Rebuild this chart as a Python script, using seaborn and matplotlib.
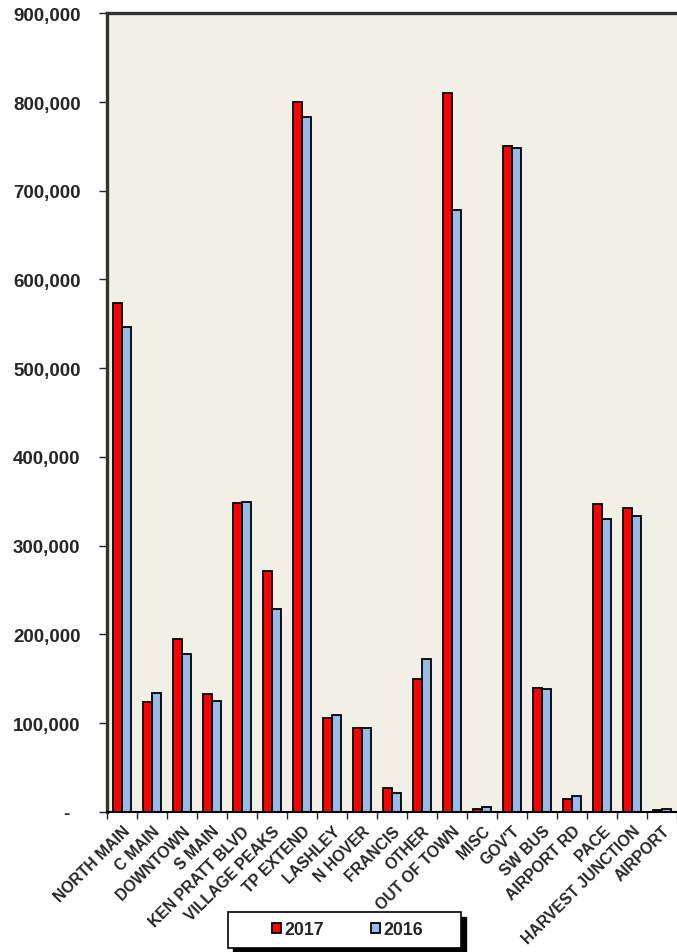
import numpy as np
import pandas as pd
import matplotlib
matplotlib.use('Agg')
import matplotlib.pyplot as plt
import seaborn as sns
from matplotlib.patches import Rectangle
from matplotlib.ticker import FuncFormatter

# Data
categories = ['NORTH MAIN', 'C MAIN', 'DOWNTOWN', 'S MAIN', 'KEN PRATT BLVD',
              'VILLAGE PEAKS', 'TP EXTEND', 'LASHLEY', 'N HOVER', 'FRANCIS',
              'OTHER', 'OUT OF TOWN', 'MISC', "GOV'T", 'SW BUS', 'AIRPORT RD',
              'PACE', 'HARVEST JUNCTION', 'AIRPORT']
sales_2017 = [574000, 124000, 195000, 133000, 348000, 272000, 800000, 106000,
              95000, 27000, 150000, 810000, 3000, 750000, 140000, 14000,
              347000, 342000, 2000]
sales_2016 = [546000, 134000, 178000, 125000, 349000, 229000, 783000, 109000,
              95000, 21000, 172000, 678000, 5000, 748000, 139000, 18000,
              330000, 333000, 3000]
years = ['2017', '2016']
yticks = list(range(0, 900001, 100000))

sns.set_style('white')
plt.rcParams['font.family'] = ['Liberation Sans', 'DejaVu Sans']
plt.rcParams['font.weight'] = 'bold'

n = len(categories)
df = pd.DataFrame({
    'category': categories * 2,
    'year': ['2017'] * n + ['2016'] * n,
    'value': sales_2017 + sales_2016,
})

W, H = 677, 953
fig = plt.figure(figsize=(W / 100, H / 100), dpi=100)
ax = fig.add_axes([0.158, 0.147, 0.842, 0.838])
ax.set_facecolor('#F2F0E6')

sns.barplot(data=df, x='category', y='value', hue='year', hue_order=years,
            order=categories, palette={'2017': '#FF0000', '2016': '#99BBE8'},
            width=0.58, edgecolor='black', linewidth=1.3, saturation=1,
            errorbar=None, ax=ax)

handles, labels = ax.get_legend_handles_labels()
ax.get_legend().remove()

ax.set_ylim(0, 900000)
ax.set_yticks(yticks)
ax.yaxis.set_major_formatter(FuncFormatter(lambda v, p: '-  ' if v == 0 else f'{int(v):,}'))
ax.tick_params(axis='y', length=6, width=1, direction='out', pad=13, labelsize=13.5, left=True)
ax.set_xlabel('')
ax.set_ylabel('')

ax.set_xticks(range(n))
ax.set_xticklabels(categories, rotation=45, ha='right', rotation_mode='anchor', fontsize=11.3)
ax.set_xticks(np.arange(-0.5, n, 1), minor=True)
ax.tick_params(axis='x', which='major', length=0, pad=8)
ax.tick_params(axis='x', which='minor', length=5, width=1, direction='out', bottom=True)
ax.set_xlim(-0.5, n - 0.5)

for side in ['left', 'top']:
    ax.spines[side].set_linewidth(2.4)
    ax.spines[side].set_color('#333333')
ax.spines['bottom'].set_color('black')
ax.spines['bottom'].set_linewidth(1.5)
ax.spines['right'].set_visible(False)

# legend box with a hard black drop shadow
box_x, box_y, box_w, box_h = 228 / W, 4 / H, 233 / W, 36 / H
fig.patches.append(Rectangle((box_x + 5 / W, box_y - 5 / H), box_w, box_h,
                             transform=fig.transFigure, facecolor='black',
                             edgecolor='black', zorder=1))
fig.patches.append(Rectangle((box_x, box_y), box_w, box_h,
                             transform=fig.transFigure, facecolor='white',
                             edgecolor='black', linewidth=1.2, zorder=2))
fig.legend(handles, labels, loc='center',
           bbox_to_anchor=(box_x + box_w / 2 + 3 / W, box_y + box_h / 2),
           ncol=2, frameon=False, handlelength=0.5, handleheight=0.5,
           handletextpad=0.22, columnspacing=2.6,
           prop={'weight': 'bold', 'size': 12.8})

plt.savefig('out.png', dpi=100)
plt.close()
